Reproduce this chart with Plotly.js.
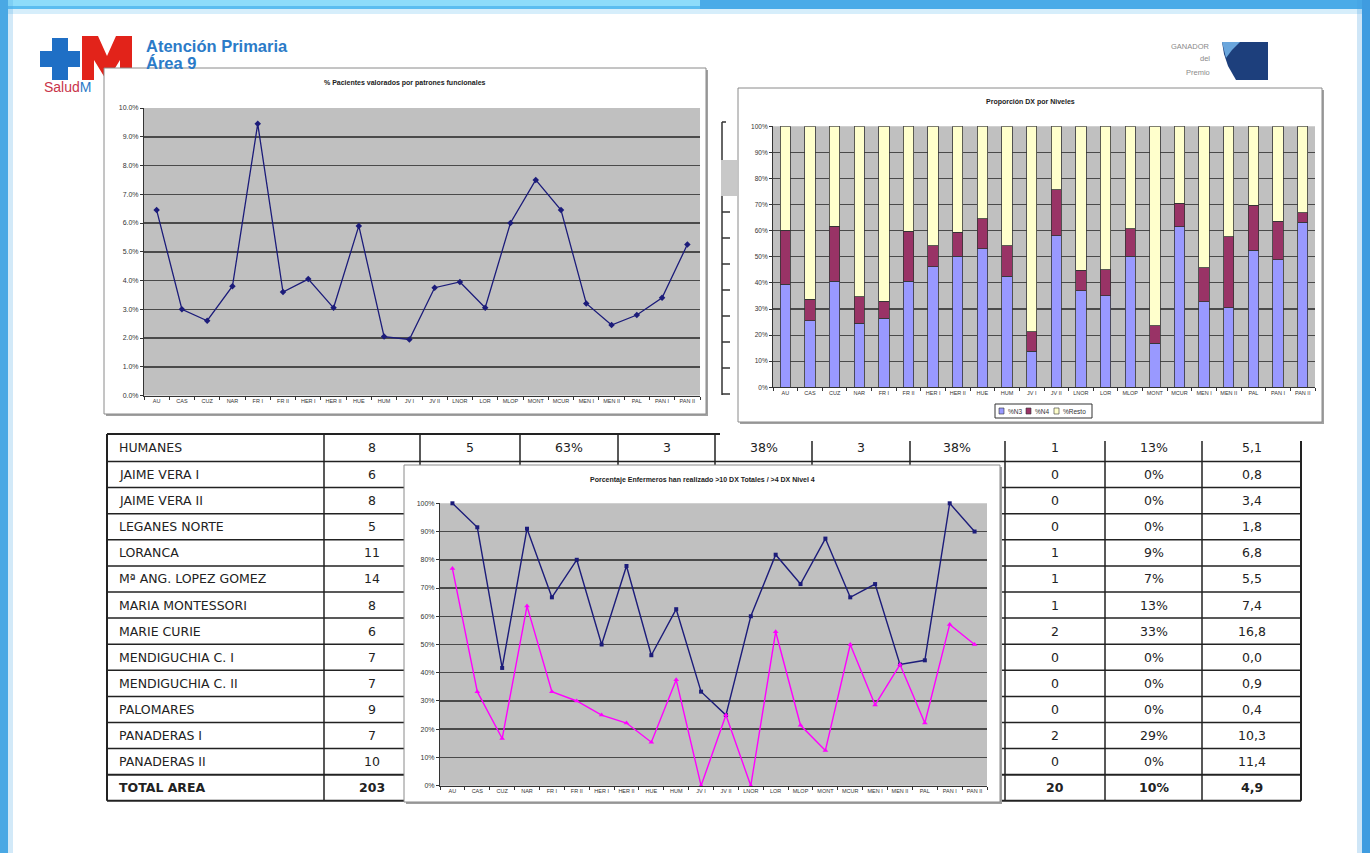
<!DOCTYPE html>
<html><head><meta charset="utf-8">
<script src="https://cdn.plot.ly/plotly-3.0.1.min.js"></script>
<style>html,body{margin:0;padding:0;background:#fff;overflow:hidden}#chart{width:1370px;height:853px}</style>
</head><body><div id="chart"></div>
<script>
// ---------- DATA ----------
const categories = ['AU','CAS','CUZ','NAR','FR I','FR II','HER I','HER II','HUE','HUM','JV I','JV II','LNOR','LOR','MLOP','MONT','MCUR','MEN I','MEN II','PAL','PAN I','PAN II'];
// Chart 1: % Pacientes valorados por patrones funcionales
const pctValorados = [6.45,3.0,2.6,3.8,9.45,3.6,4.05,3.05,5.9,2.05,1.95,3.75,3.95,3.05,6.0,7.5,6.45,3.2,2.45,2.8,3.4,5.25];
// Chart 2: Proporción DX por Niveles
const seriesNames2 = ['%N3','%N4','%Resto'];
const pctN3 = [39.5,25.5,40.7,24.5,26.4,40.7,46.2,50.3,53.1,42.6,13.9,58.0,36.9,35.0,50.3,16.9,61.5,32.8,30.5,52.5,48.8,63.3];
const pctN4 = [20.7,8.2,21.0,10.2,6.6,19.1,8.1,9.2,11.5,11.7,7.4,17.6,8.0,10.0,10.5,6.6,9.0,13.0,27.1,17.3,14.9,3.5];
const pctResto = [39.8,66.3,38.3,65.3,67.0,40.2,45.7,40.5,35.4,45.7,78.7,24.4,55.1,55.0,39.2,76.5,29.5,54.2,42.4,30.2,36.3,33.2];
// Chart 3: Porcentaje Enfermeros
const seriesNames3 = ['>10 DX Totales','>4 DX Nivel 4'];
const pctMas10 = [100,91.5,41.7,91,66.7,80,50,77.8,46.2,62.5,33.3,25,60,81.8,71.4,87.5,66.7,71.4,42.9,44.4,100,90];
const pctNivel4 = [76.9,33.3,16.7,63.6,33.3,30,25,22.2,15.4,37.5,0,25,0,54.5,21.4,12.5,50,28.6,42.9,22.2,57.1,50];
// Table (partially hidden behind the charts)
const centros = ['HUMANES','JAIME VERA I','JAIME VERA II','LEGANES NORTE','LORANCA','Mª ANG. LOPEZ GOMEZ','MARIA MONTESSORI','MARIE CURIE','MENDIGUCHIA C. I','MENDIGUCHIA C. II','PALOMARES','PANADERAS I','PANADERAS II','TOTAL AREA'];
const enfermeros = ['8','6','8','5','11','14','8','6','7','7','9','7','10','203'];
const humanesHidden = ['5','63%','3','38%','3','38%'];
const nNivel = ['1','0','0','0','1','1','1','2','0','0','0','2','0','20'];
const pctNivel = ['13%','0%','0%','0%','9%','7%','13%','33%','0%','0%','0%','29%','0%','10%'];
const ratio = ['5,1','0,8','3,4','1,8','6,8','5,5','7,4','16,8','0,0','0,9','0,4','10,3','11,4','4,9'];

// ---------- HELPERS ----------
const W=1370,H=853;
const X=v=>v/W, Y=v=>1-v/H;
const shapes=[], annotations=[];
function rect(x0,y0,x1,y1,fill,lc,lw,op){shapes.push({type:'rect',xref:'paper',yref:'paper',x0:X(x0),x1:X(x1),y0:Y(y1),y1:Y(y0),fillcolor:fill,line:{color:lc||'rgba(0,0,0,0)',width:lw||0},opacity:op==null?1:op,layer:'below'});}
function seg(x0,y0,x1,y1,color,w){shapes.push({type:'line',xref:'paper',yref:'paper',x0:X(x0),x1:X(x1),y0:Y(y0),y1:Y(y1),line:{color:color,width:w},layer:'below'});}
function poly(pts,fill){let d='M'+pts.map(p=>X(p[0])+','+Y(p[1])).join(' L')+' Z';shapes.push({type:'path',xref:'paper',yref:'paper',path:d,fillcolor:fill,line:{width:0},layer:'below'});}
function ann(text,x,y,size,color,xa,family,extra){annotations.push(Object.assign({xref:'paper',yref:'paper',x:X(x),y:Y(y),text:text,showarrow:false,xanchor:xa||'center',yanchor:'middle',font:{family:family||'Liberation Sans',size:size,color:color}},extra||{}));}

// ---------- SLIDE FRAME ----------
rect(0,0,1370,9,'#5cbdf0');
rect(0,0,700,6,'#8edcfa');
rect(700,0,1370,9,'#3d9ee2',null,0,0.6);
rect(0,9,1370,14,'#5cbdf0',null,0,0.25);
rect(0,0,8,853,'#4aa8e4');
rect(8,0,13,853,'#4aa8e4',null,0,0.25);
rect(1362,0,1370,853,'#3f9ce0');
rect(1357,0,1362,853,'#3f9ce0',null,0,0.25);

// ---------- LOGOS ----------
rect(52,38,68,80,'#1f6fc5');
rect(40,51,80,67,'#1f6fc5');
poly([[82,80],[82,36],[98,36],[107,56],[116,36],[132,36],[132,80],[120,80],[120,60],[109,78],[105,78],[94,60],[94,80]],'#e2231a');
ann('<b>Atención Primaria</b>',144,46,16.5,'#2b7bc8','left');
ann('<b>Área 9</b>',144,63,16.5,'#2b7bc8','left');
ann('<span style="color:#c9344a">Salud</span><span style="color:#2b7bc8">M</span>',42,87,14,'#2b7bc8','left');
poly([[1222,42],[1268,42],[1268,80],[1236,80],[1228,66],[1224,54]],'#1d3f7c');
poly([[1222,42],[1240,42],[1232,50],[1226,58]],'#6aa6dc');
ann('GANADOR',1212,46,7.5,'#8a8a8a','right');
ann('del',1212,59,7.5,'#8a8a8a','right');
ann('Premio',1212,72,7.5,'#8a8a8a','right');

// ---------- TABLE ----------
const colX=[107,324,420,520,618,715,812,910,1005,1105,1202,1301];
const rowY=[434,461.5];
for(let i=1;i<=13;i++) rowY.push(461.5+i*26.1);
seg(107,434,720,434,'#222',1.8);
for(let i=1;i<rowY.length;i++) seg(107,rowY[i],1301,rowY[i],'#222',(i===13||i===14)?2:1.5);
colX.forEach((x,i)=>{const top=x<720?434:441;seg(x,top,x,rowY[14],'#222',(i===0||i===colX.length-1)?2:1.5);});
// remnants of the table between charts 1 and 2
seg(722,122,722,395,'#333',1.5);
seg(722,122,726,122,'#333',1.5);
rect(721,160,737,196,'#c8c8c8');
for(let y=212;y<=394;y+=26) seg(722,y,730,y,'#333',1.5);

const rowC=i=> (rowY[i]+rowY[i+1])/2;
const colC=j=>(colX[j]+colX[j+1])/2;
const TF='DejaVu Sans', TS=12.5;
centros.forEach((c,i)=>{const b=i===centros.length-1; const w=s=>b?'<b>'+s+'</b>':s;
  ann(w(c),117,rowC(i),TS,'#222','left',TF);
  ann(w(enfermeros[i]),colC(1),rowC(i),TS,'#222','center',TF);
  ann(w(nNivel[i]),colC(8),rowC(i),TS,'#222','center',TF);
  ann(w(pctNivel[i]),colC(9),rowC(i),TS,'#222','center',TF);
  ann(w(ratio[i]),colC(10),rowC(i),TS,'#222','center',TF);
});
humanesHidden.forEach((v,j)=>ann(v,colC(j+2),rowC(0),TS,'#222','center',TF));

// ---------- CHART BOXES ----------
const boxes=[[104,68,706,414],[738,88,1322,422],[404,465,1000,802]];
boxes.forEach(b=>{rect(b[0]+2,b[1]+2,b[2]+2,b[3]+2,'#a0a0a0');rect(b[0],b[1],b[2],b[3],'#ffffff','#8a8a8a',1);});
const plots=[[144,108,700,395.5],[773,126.3,1315,387.3],[440,503.3,987,785.7]];
plots.forEach(p=>rect(p[0],p[1],p[2],p[3],'#c0c0c0'));

ann('<b>% Pacientes valorados por patrones funcionales</b>',405,83,7,'#222');
ann('<b>Proporción DX por Niveles</b>',1030,102,7,'#222');
ann('<b>Porcentaje Enfermeros han realizado &gt;10 DX Totales / &gt;4 DX Nivel 4</b>',702,480,7,'#222');

// legend chart 2 (manual)
rect(995,404,1092,418,'#ffffff','#333',1);
const legColors=['#9999ff','#993366','#ffffcc'];
const legX=[999,1026,1054];
seriesNames2.forEach((n,i)=>{rect(legX[i],408,legX[i]+5,414,legColors[i],'#333',0.6);ann(n,legX[i]+7,411.5,6.5,'#333','left');});

// ---------- AXES ----------
function axX(p,anchor){return {domain:[X(p[0]),X(p[2])],anchor:anchor,type:'category',tickson:'boundaries',ticks:'outside',ticklen:3,tickcolor:'#333',showline:true,linecolor:'#333',linewidth:1,showgrid:false,zeroline:false,tickfont:{family:'Liberation Sans',size:5.5,color:'#333'},tickangle:0,range:[-0.5,21.5],fixedrange:true};}
function axY(p,anchor,range,dtick,fmt,grid,gw,fs){return {domain:[Y(p[3]),Y(p[1])],anchor:anchor,range:range,dtick:dtick,tickformat:fmt,ticksuffix:'%',ticks:'outside',ticklen:3,tickcolor:'#333',showline:true,linecolor:'#333',linewidth:1,showgrid:true,gridcolor:grid,gridwidth:gw,zeroline:false,tickfont:{family:'Liberation Sans',size:fs,color:'#333'},fixedrange:true};}

const traces=[
  {type:'scatter',mode:'lines+markers',x:categories,y:pctValorados,xaxis:'x',yaxis:'y',line:{color:'#1c1c7a',width:1.3},marker:{symbol:'diamond',size:5,color:'#1c1c7a'},cliponaxis:false,showlegend:false},
  {type:'bar',name:seriesNames2[0],x:categories,y:pctN3,xaxis:'x2',yaxis:'y2',width:0.42,marker:{color:'#9999ff',line:{color:'#333',width:0.8}},showlegend:false},
  {type:'bar',name:seriesNames2[1],x:categories,y:pctN4,xaxis:'x2',yaxis:'y2',width:0.42,marker:{color:'#993366',line:{color:'#333',width:0.8}},showlegend:false},
  {type:'bar',name:seriesNames2[2],x:categories,y:pctResto,xaxis:'x2',yaxis:'y2',width:0.42,marker:{color:'#ffffcc',line:{color:'#333',width:0.8}},showlegend:false},
  {type:'scatter',mode:'lines+markers',name:seriesNames3[0],x:categories,y:pctMas10,xaxis:'x3',yaxis:'y3',line:{color:'#1c1c7a',width:1.4},marker:{symbol:'square',size:4,color:'#1c1c7a'},cliponaxis:false,showlegend:false},
  {type:'scatter',mode:'lines+markers',name:seriesNames3[1],x:categories,y:pctNivel4,xaxis:'x3',yaxis:'y3',line:{color:'#ff00ff',width:1.4},marker:{symbol:'triangle-up',size:5,color:'#ff00ff'},cliponaxis:false,showlegend:false}
];

const layout={
  width:W,height:H,margin:{l:0,r:0,t:0,b:0},
  paper_bgcolor:'#ffffff',plot_bgcolor:'rgba(0,0,0,0)',
  showlegend:false,barmode:'stack',
  xaxis:axX(plots[0],'y'),yaxis:axY(plots[0],'x',[0,10],1,'.1f','#4a4a4a',1.5,7),
  xaxis2:axX(plots[1],'y2'),yaxis2:axY(plots[1],'x2',[0,100],10,'d','#4a4a4a',1.2,6.5),
  xaxis3:axX(plots[2],'y3'),yaxis3:axY(plots[2],'x3',[0,100],10,'d','#4a4a4a',1.5,7),
  shapes:shapes,annotations:annotations,
  font:{family:'Liberation Sans'}
};
Plotly.newPlot('chart',traces,layout,{staticPlot:true,displayModeBar:false});
</script></body></html>
